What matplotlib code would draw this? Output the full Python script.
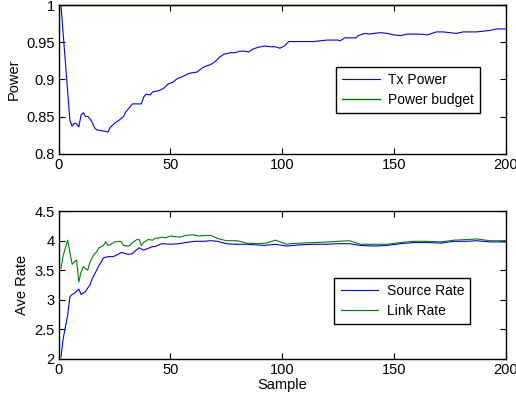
import matplotlib
matplotlib.use("Agg")
import matplotlib.pyplot as plt

plt.rcParams['font.family'] = ['Liberation Sans', 'DejaVu Sans']
plt.rcParams['font.size'] = 10.5

# Tx power (sample, value)
txSample = [1, 5, 6, 7, 8, 9, 10, 11, 12, 13, 14, 15, 16, 17, 19, 21, 22, 23, 25, 27,
            29, 30, 33, 35, 37, 38, 39, 41, 42, 45, 47, 49, 51, 53, 54, 57, 58, 60, 62, 64,
            66, 68, 70, 72, 74, 77, 79, 81, 83, 85, 87, 89, 92, 95, 97, 99, 101, 103, 105, 108,
            111, 114, 117, 120, 125, 126, 128, 131, 133, 134, 137, 139, 141, 144, 147, 150, 153, 156, 159, 162,
            165, 167, 169, 172, 175, 178, 181, 184, 187, 190, 193, 196, 200]
txPower = [1.0, 0.845, 0.837, 0.841, 0.840, 0.836, 0.852, 0.855, 0.850, 0.850, 0.847, 0.842, 0.835, 0.832, 0.831, 0.830, 0.829, 0.835, 0.841, 0.845,
           0.850, 0.856, 0.867, 0.867, 0.867, 0.876, 0.880, 0.879, 0.883, 0.885, 0.888, 0.894, 0.896, 0.901, 0.902, 0.906, 0.908, 0.909, 0.910, 0.915,
           0.918, 0.920, 0.924, 0.930, 0.934, 0.936, 0.936, 0.938, 0.938, 0.937, 0.941, 0.943, 0.945, 0.944, 0.944, 0.942, 0.945, 0.951, 0.951, 0.951,
           0.951, 0.951, 0.952, 0.953, 0.953, 0.952, 0.956, 0.956, 0.956, 0.959, 0.962, 0.961, 0.962, 0.963, 0.962, 0.960, 0.959, 0.961, 0.961, 0.961,
           0.960, 0.962, 0.964, 0.964, 0.963, 0.962, 0.964, 0.964, 0.964, 0.965, 0.966, 0.968, 0.968]

budgetSample = [1, 200]
powerBudget = [1.0, 1.0]

srcSample = [1, 2, 4, 5, 6, 7, 9, 10, 12, 13, 14, 15, 17, 18, 19, 20, 22, 24, 25, 27,
             28, 30, 31, 33, 34, 36, 37, 38, 40, 42, 43, 45, 46, 50, 54, 57, 61, 65, 68, 71,
             75, 79, 84, 88, 92, 97, 102, 108, 114, 120, 125, 130, 135, 141, 147, 153, 159, 165, 171, 177,
             183, 187, 193, 200]
sourceRate = [2.03, 2.34, 2.74, 3.05, 3.09, 3.11, 3.18, 3.09, 3.14, 3.20, 3.25, 3.36, 3.50, 3.58, 3.64, 3.71, 3.73, 3.73, 3.74, 3.78,
              3.80, 3.78, 3.77, 3.78, 3.82, 3.88, 3.86, 3.84, 3.87, 3.90, 3.90, 3.93, 3.95, 3.94, 3.95, 3.97, 3.99, 3.99, 4.00, 3.99,
              3.95, 3.94, 3.94, 3.93, 3.92, 3.94, 3.91, 3.93, 3.94, 3.94, 3.95, 3.95, 3.92, 3.91, 3.92, 3.95, 3.97, 3.97, 3.96, 3.99,
              3.99, 4.00, 3.98, 3.98]

linkSample = [1, 2, 4, 6, 7, 8, 9, 10, 11, 12, 13, 14, 16, 17, 18, 19, 20, 21, 22, 23,
              25, 27, 28, 29, 31, 32, 33, 35, 36, 37, 38, 40, 42, 43, 45, 46, 48, 50, 54, 57,
              60, 63, 66, 68, 71, 75, 80, 84, 89, 93, 97, 102, 104, 109, 115, 121, 125, 130, 135, 141,
              147, 153, 159, 165, 171, 177, 183, 187, 193, 200]
linkRate = [3.53, 3.75, 4.01, 3.60, 3.64, 3.67, 3.30, 3.47, 3.56, 3.53, 3.50, 3.64, 3.78, 3.81, 3.88, 3.90, 3.92, 3.98, 3.92, 3.93,
            3.98, 3.99, 3.98, 3.92, 3.91, 3.92, 3.97, 4.02, 4.02, 3.92, 3.97, 4.02, 4.01, 4.04, 4.05, 4.06, 4.05, 4.08, 4.06, 4.09,
            4.10, 4.08, 4.09, 4.09, 4.04, 4.00, 4.00, 3.96, 3.95, 3.96, 4.01, 3.94, 3.95, 3.96, 3.97, 3.98, 3.99, 4.00, 3.94, 3.94,
            3.94, 3.97, 3.99, 3.99, 3.98, 4.01, 4.02, 4.03, 4.00, 4.00]

blue = (0, 0, 1)
green = (0, 0.5, 0)

fig = plt.figure(figsize=(5.16, 4.0), dpi=100)
ax1 = fig.add_axes([0.1138, 0.616, 0.866, 0.371])
ax2 = fig.add_axes([0.1138, 0.103, 0.866, 0.369])

ax1.plot(txSample, txPower, color=blue, lw=0.8, label="Tx Power")
ax1.plot(budgetSample, powerBudget, color=green, lw=1.0, label="Power budget", clip_on=False)
ax1.set_xlim(0, 200)
ax1.set_ylim(0.8, 1.0)
ax1.set_xticks([0, 50, 100, 150, 200])
ax1.set_yticks([0.8, 0.85, 0.9, 0.95, 1.0])
ax1.set_yticklabels(["0.8", "0.85", "0.9", "0.95", "1"])
ax1.set_ylabel("Power")
ax1.legend(loc="upper left", bbox_to_anchor=(0.620, 0.584), borderaxespad=0, fancybox=False,
           edgecolor="black", framealpha=1, handlelength=2.7, handletextpad=0.6,
           borderpad=0.45, labelspacing=0.4, fontsize=10)

ax2.plot(srcSample, sourceRate, color=blue, lw=0.8, label="Source Rate")
ax2.plot(linkSample, linkRate, color=green, lw=0.8, label="Link Rate")
ax2.set_xlim(0, 200)
ax2.set_ylim(2, 4.5)
ax2.set_xticks([0, 50, 100, 150, 200])
ax2.set_yticks([2, 2.5, 3, 3.5, 4, 4.5])
ax2.set_yticklabels(["2", "2.5", "3", "3.5", "4", "4.5"])
ax2.set_ylabel("Ave Rate")
ax2.set_xlabel("Sample", labelpad=1)
ax2.legend(loc="upper left", bbox_to_anchor=(0.617, 0.548), borderaxespad=0, fancybox=False,
           edgecolor="black", framealpha=1, handlelength=2.7, handletextpad=0.6,
           borderpad=0.45, labelspacing=0.4, fontsize=10)

for ax in (ax1, ax2):
    ax.tick_params(direction="in", length=4, top=True, right=True, labelsize=10.5, pad=3)
    for s in ax.spines.values():
        s.set_linewidth(1.0)

fig.savefig("out.png", dpi=100)
